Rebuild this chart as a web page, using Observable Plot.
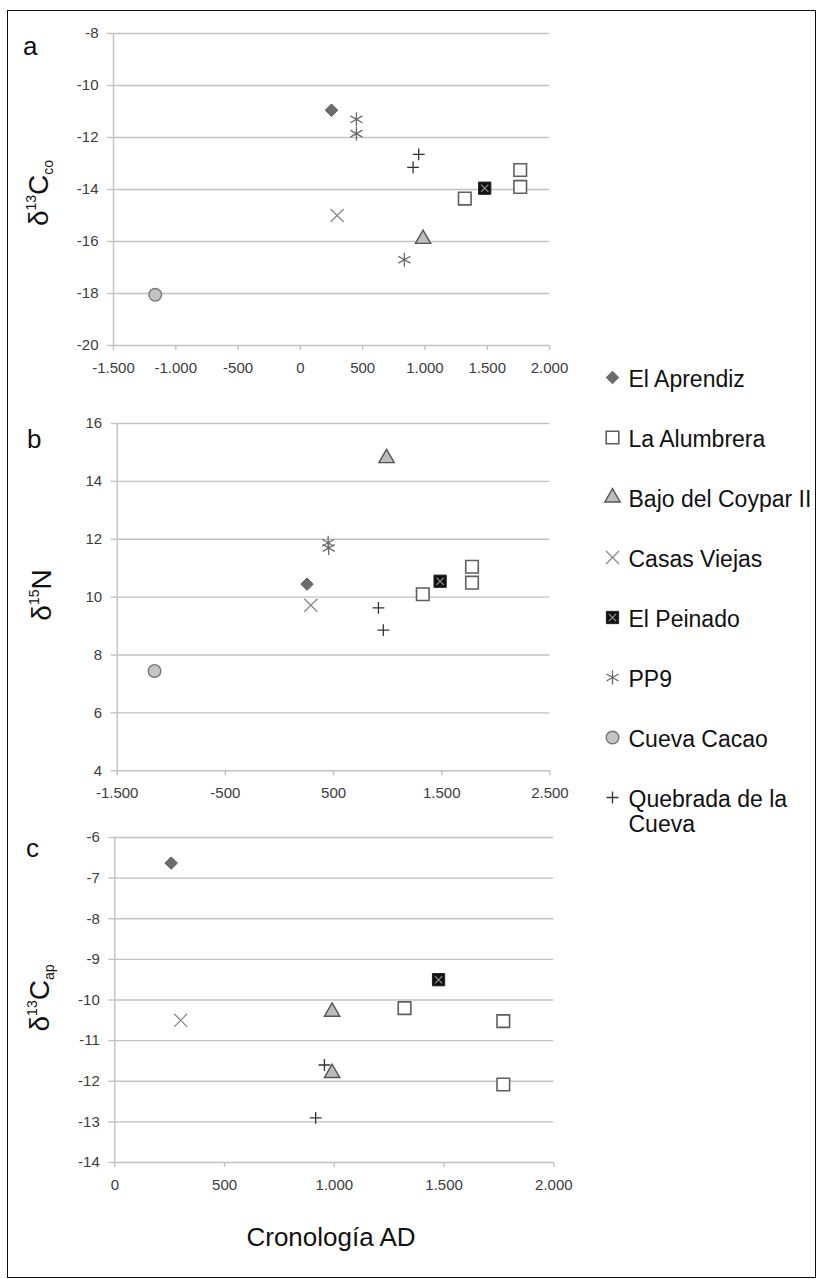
<!DOCTYPE html>
<html><head><meta charset="utf-8">
<script src="https://cdn.jsdelivr.net/npm/d3@7"></script>
<script src="https://cdn.jsdelivr.net/npm/@observablehq/plot@0.6"></script>
<style>
body{margin:0;background:#fff;font-family:"Liberation Sans",Arial,sans-serif;}
#fig{position:relative;width:817px;height:1279px;overflow:hidden;background:#fff;}
#border{position:absolute;left:7px;top:10px;width:809px;height:1268px;border:1.5px solid #111;box-sizing:border-box;}
.letter{position:absolute;font-size:26px;line-height:26px;color:#111;}
.ytitle{position:absolute;font-size:28px;line-height:28px;white-space:nowrap;transform:translate(-50%,-50%) rotate(-90deg);color:#111;}
.ytitle .sp{font-size:14px;position:relative;top:-12px;}
.ytitle .sb{font-size:14px;position:relative;top:5px;}
.xtitle{position:absolute;font-size:26px;line-height:26px;white-space:nowrap;transform:translateX(-50%);color:#111;}
</style></head>
<body>
<div id="fig">
  <div id="border"></div>
  <div class="letter" style="left:23px;top:33px">a</div>
  <div class="letter" style="left:27px;top:426px">b</div>
  <div class="letter" style="left:26px;top:835px">c</div>
  <div class="ytitle" style="left:41px;top:193px">δ<span class="sp">13</span>C<span class="sb">co</span></div>
  <div class="ytitle" style="left:44px;top:595px">δ<span class="sp">15</span>N</div>
  <div class="ytitle" style="left:42px;top:998px">δ<span class="sp">13</span>C<span class="sb">ap</span></div>
  <div class="xtitle" style="left:331px;top:1224px">Cronología AD</div>
</div>
<script>
// ---- data ----
const series = ["El Aprendiz", "La Alumbrera", "Bajo del Coypar II", "Casas Viejas", "El Peinado", "PP9", "Cueva Cacao", "Quebrada de la Cueva"];

// panel a: δ13C collagen
const coSite = ["El Aprendiz", "La Alumbrera", "La Alumbrera", "La Alumbrera", "Bajo del Coypar II", "Casas Viejas", "El Peinado", "PP9", "PP9", "PP9", "Cueva Cacao", "Quebrada de la Cueva", "Quebrada de la Cueva"];
const coYear = [250, 1320, 1765, 1765, 985, 295, 1480, 450, 450, 835, -1165, 950, 905];
const coValue = [-10.95, -14.35, -13.25, -13.9, -15.9, -15.0, -13.95, -11.3, -11.85, -16.7, -18.05, -12.65, -13.15];
const coXTicks = [-1500, -1000, -500, 0, 500, 1000, 1500, 2000];
const coYTicks = [-20, -18, -16, -14, -12, -10, -8];

// panel b: δ15N
const nSite = ["El Aprendiz", "La Alumbrera", "La Alumbrera", "La Alumbrera", "Bajo del Coypar II", "Casas Viejas", "El Peinado", "PP9", "PP9", "Cueva Cacao", "Quebrada de la Cueva", "Quebrada de la Cueva"];
const nYear = [255, 1325, 1780, 1780, 990, 290, 1485, 450, 455, -1155, 915, 960];
const nValue = [10.45, 10.1, 11.05, 10.5, 14.8, 9.72, 10.55, 11.88, 11.7, 7.45, 9.63, 8.86];
const nXTicks = [-1500, -500, 500, 1500, 2500];
const nYTicks = [4, 6, 8, 10, 12, 14, 16];

// panel c: δ13C apatite
const apSite = ["El Aprendiz", "Casas Viejas", "Bajo del Coypar II", "Bajo del Coypar II", "Quebrada de la Cueva", "Quebrada de la Cueva", "La Alumbrera", "La Alumbrera", "La Alumbrera", "El Peinado"];
const apYear = [257, 300, 990, 990, 955, 915, 1320, 1770, 1770, 1475];
const apValue = [-6.63, -10.5, -10.29, -11.8, -11.6, -12.9, -10.2, -10.52, -12.08, -9.5];
const apXTicks = [0, 500, 1000, 1500, 2000];
const apYTicks = [-14, -13, -12, -11, -10, -9, -8, -7, -6];

// ---- styles ----
const styleOf = {
  "El Aprendiz": {symbol: "diamond2", r: 5.6, fill: "#6c6c6c", stroke: "#5a5a5a", strokeWidth: 1},
  "La Alumbrera": {symbol: "square2", r: 8, fill: "#fff", stroke: "#5e5e5e", strokeWidth: 1.6},
  "Bajo del Coypar II": {symbol: "triangle", r: 5.7, fill: "#bdbdbd", stroke: "#555", strokeWidth: 1.4},
  "Casas Viejas": {symbol: "times", r: 6, fill: "none", stroke: "#8a8a8a", strokeWidth: 1.3},
  "El Peinado": {symbol: "square2", r: 7.8, fill: "#111", stroke: "#222", strokeWidth: 1},
  "PP9": {symbol: "asterisk", r: 6.6, fill: "none", stroke: "#6a6a6a", strokeWidth: 1.3},
  "Cueva Cacao": {symbol: "circle", r: 6.3, fill: "#c4c4c4", stroke: "#777", strokeWidth: 1.4},
  "Quebrada de la Cueva": {symbol: "plus", r: 3.9, fill: "none", stroke: "#333", strokeWidth: 1.3}
};
const peinadoCross = {symbol: "times", r: 3.4, fill: "none", stroke: "#9a9a9a", strokeWidth: 1.1};

const locale = d3.formatLocale({decimal: ",", thousands: ".", grouping: [3], currency: ["", ""], minus: "-"});
const fmtX = locale.format(",d");
const fmtY = d => String(d);
const grid = "#c2c2c2";
const ink = "#3c3c3c";

function siteMarks(rows, x, y) {
  const marks = [];
  for (const s of series) {
    const sub = rows.filter(d => d.site === s);
    if (!sub.length) continue;
    marks.push(Plot.dot(sub, {x, y, ...styleOf[s]}));
    if (s === "El Peinado") marks.push(Plot.dot(sub, {x, y, ...peinadoCross}));
  }
  return marks;
}

function panel(cfg) {
  const rows = cfg.years.map((x, i) => ({x, y: cfg.values[i], site: cfg.sites[i]}));
  const xDomain = [cfg.xTicks[0], cfg.xTicks[cfg.xTicks.length - 1]];
  const yDomain = [cfg.yTicks[0], cfg.yTicks[cfg.yTicks.length - 1]];
  const svg = Plot.plot({
    width: cfg.width, height: cfg.height,
    marginLeft: cfg.ml, marginRight: cfg.width - cfg.xr, marginTop: 15, marginBottom: cfg.height - 15 - cfg.fh,
    style: {fontSize: "15px", fontFamily: "'Liberation Sans', Arial, sans-serif", background: "transparent", overflow: "visible"},
    x: {domain: xDomain, label: null},
    y: {domain: yDomain, label: null},
    marks: [
      Plot.ruleY(cfg.yTicks, {stroke: grid, strokeWidth: 1.4}),
      Plot.ruleX([xDomain[0]], {stroke: grid, strokeWidth: 1.4}),
      Plot.axisY({ticks: cfg.yTicks, tickSize: 6, tickPadding: 9, tickFormat: fmtY, stroke: grid, strokeWidth: 1.4, fill: ink, label: null}),
      Plot.axisX({ticks: cfg.xTicks, tickSize: 5, tickPadding: 12, tickFormat: fmtX, stroke: grid, strokeWidth: 1.4, fill: ink, label: null}),
      ...siteMarks(rows, "x", "y")
    ]
  });
  svg.style.position = "absolute";
  svg.style.left = "0px";
  svg.style.top = cfg.top + "px";
  document.getElementById("fig").appendChild(svg);
}

panel({sites: coSite, years: coYear, values: coValue, xTicks: coXTicks, yTicks: coYTicks,
  width: 590, height: 372, ml: 113, xr: 549, fh: 312, top: 18});
panel({sites: nSite, years: nYear, values: nValue, xTicks: nXTicks, yTicks: nYTicks,
  width: 590, height: 407, ml: 116.7, xr: 549.4, fh: 347.3, top: 407.7});
panel({sites: apSite, years: apYear, values: apValue, xTicks: apXTicks, yTicks: apYTicks,
  width: 594, height: 385, ml: 114.3, xr: 553.3, fh: 325, top: 822});

// legend
const legendMarks = [];
for (const s of series) {
  legendMarks.push(Plot.dot([s], {y: d => d, frameAnchor: "left", dx: 22, ...styleOf[s]}));
  if (s === "El Peinado") legendMarks.push(Plot.dot([s], {y: d => d, frameAnchor: "left", dx: 22, ...peinadoCross}));
}
legendMarks.push(Plot.text(series, {y: d => d, text: d => d, frameAnchor: "left", dx: 38, textAnchor: "start",
  lineAnchor: "top", dy: -8.5, lineWidth: 9, lineHeight: 1.1, fontSize: 23, fill: "#111"}));
const legend = Plot.plot({
  width: 227, height: 520, marginLeft: 0, marginRight: 0, marginTop: 0, marginBottom: 0,
  style: {fontFamily: "'Liberation Sans', Arial, sans-serif", background: "transparent", overflow: "visible"},
  y: {type: "point", domain: series, range: [36, 458], padding: 0, axis: null},
  marks: legendMarks
});
legend.style.position = "absolute";
legend.style.left = "590px";
legend.style.top = "340px";
document.getElementById("fig").appendChild(legend);
</script>
</body></html>
